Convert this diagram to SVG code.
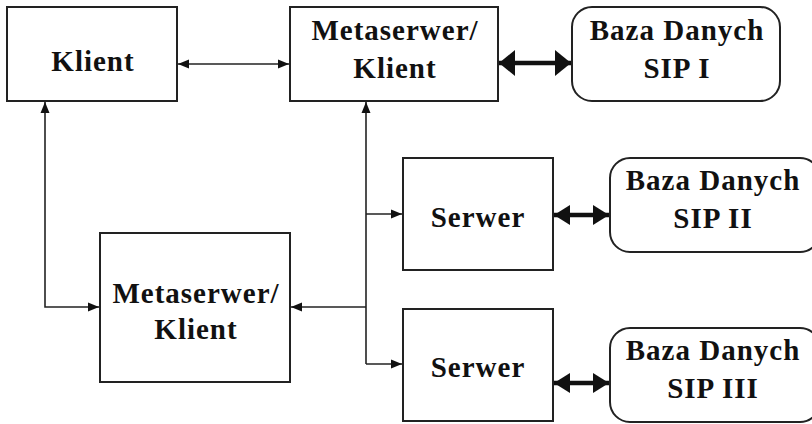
<svg xmlns="http://www.w3.org/2000/svg" width="812" height="424" viewBox="0 0 812 424">
<style>
.box{fill:#fff;stroke:#222;stroke-width:2}
.t{font-family:"Liberation Serif","Times New Roman",serif;font-weight:bold;font-size:29px;letter-spacing:1px;fill:#111;text-anchor:middle}
.thin{fill:none;stroke:#222;stroke-width:1.6}
.thick{fill:none;stroke:#111;stroke-width:4.5}
</style>
<defs>
<marker id="a" markerUnits="userSpaceOnUse" markerWidth="12" markerHeight="12" viewBox="0 0 12 12" refX="11" refY="6" orient="auto-start-reverse">
<path d="M0,1.5 L11,6 L0,10.5 Z" fill="#111"/>
</marker>
<marker id="b" markerUnits="userSpaceOnUse" markerWidth="18" markerHeight="28" viewBox="0 0 18 28" refX="16" refY="14" orient="auto-start-reverse">
<path d="M0,1 L16,14 L0,27 Z" fill="#111"/>
</marker>
<marker id="c" markerUnits="userSpaceOnUse" markerWidth="18" markerHeight="22" viewBox="0 0 18 22" refX="16" refY="11" orient="auto-start-reverse">
<path d="M0,1 L16,11 L0,21 Z" fill="#111"/>
</marker>
</defs>
<rect width="812" height="424" fill="#fff"/>
<g id="connectors">
<line class="thin" x1="178" y1="64" x2="289" y2="64" marker-start="url(#a)" marker-end="url(#a)"/>
<polyline class="thin" points="45,102 45,307 99,307" marker-start="url(#a)" marker-end="url(#a)"/>
<line class="thin" x1="366" y1="102" x2="366" y2="364" marker-start="url(#a)"/>
<line class="thin" x1="366" y1="307" x2="291" y2="307" marker-end="url(#a)"/>
<line class="thin" x1="366" y1="214" x2="402" y2="214" marker-end="url(#a)"/>
<line class="thin" x1="366" y1="364" x2="402" y2="364" marker-end="url(#a)"/>
<line class="thick" x1="499" y1="63" x2="571" y2="63" marker-start="url(#b)" marker-end="url(#b)"/>
<line class="thick" x1="554" y1="215" x2="609" y2="215" marker-start="url(#c)" marker-end="url(#c)"/>
<line class="thick" x1="554" y1="383" x2="609" y2="383" marker-start="url(#c)" marker-end="url(#c)"/>
</g>
<g id="klient">
<rect class="box" x="7" y="7" width="170" height="94"/>
<text class="t" x="93" y="71">Klient</text>
</g>
<g id="metaserwer-top">
<rect class="box" x="290" y="7" width="208" height="94"/>
<text class="t" x="395" y="40">Metaserwer/</text>
<text class="t" x="395" y="78">Klient</text>
</g>
<g id="baza-sip-1">
<rect class="box" x="572" y="7" width="208" height="94" rx="20"/>
<text class="t" x="677" y="40">Baza Danych</text>
<text class="t" x="677" y="78">SIP I</text>
</g>
<g id="metaserwer-bottom">
<rect class="box" x="100" y="233" width="190" height="149"/>
<text class="t" x="196" y="303">Metaserwer/</text>
<text class="t" x="196" y="339">Klient</text>
</g>
<g id="serwer-1">
<rect class="box" x="403" y="158" width="150" height="112"/>
<text class="t" x="478" y="227">Serwer</text>
</g>
<g id="serwer-2">
<rect class="box" x="403" y="309" width="150" height="112"/>
<text class="t" x="478" y="377">Serwer</text>
</g>
<g id="baza-sip-2">
<rect class="box" x="610" y="158" width="210" height="94" rx="20"/>
<text class="t" x="713" y="190">Baza Danych</text>
<text class="t" x="713" y="228">SIP II</text>
</g>
<g id="baza-sip-3">
<rect class="box" x="610" y="328" width="210" height="94" rx="20"/>
<text class="t" x="713" y="360">Baza Danych</text>
<text class="t" x="713" y="398">SIP III</text>
</g>
</svg>
